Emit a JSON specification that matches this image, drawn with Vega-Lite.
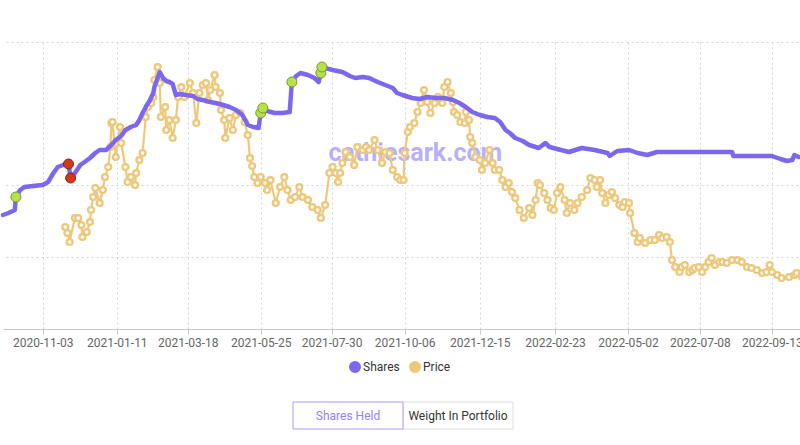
{
  "$schema": "https://vega.github.io/schema/vega-lite/v6.json",
  "padding": {"left": 0, "right": 0, "top": 42, "bottom": 0},
  "background": "white",
  "config": {"view": {"stroke": null}, "font": "Roboto"},
  "datasets": {
    "price": [
      {"date":"2020-11-24","price":51},{"date":"2020-11-26","price":48},{"date":"2020-11-28","price":43.5},{"date":"2020-12-03","price":55.5},{"date":"2020-12-06","price":55.5},{"date":"2020-12-09","price":52},{"date":"2020-12-10","price":46},{"date":"2020-12-14","price":48.5},{"date":"2020-12-17","price":53.5},{"date":"2020-12-18","price":59.5},{"date":"2020-12-20","price":66},{"date":"2020-12-22","price":70.5},{"date":"2020-12-26","price":63},{"date":"2020-12-29","price":69.5},{"date":"2020-12-31","price":76},
      {"date":"2021-01-03","price":81},{"date":"2021-01-05","price":91},{"date":"2021-01-06","price":103},{"date":"2021-01-07","price":103.5},{"date":"2021-01-10","price":86},{"date":"2021-01-14","price":101},{"date":"2021-01-15","price":93},{"date":"2021-01-19","price":81},{"date":"2021-01-21","price":73.5},{"date":"2021-01-24","price":76},{"date":"2021-01-28","price":72},{"date":"2021-01-29","price":78},
      {"date":"2021-02-01","price":84.5},{"date":"2021-02-04","price":88},{"date":"2021-02-07","price":106},{"date":"2021-02-09","price":111},{"date":"2021-02-12","price":113},{"date":"2021-02-14","price":116},{"date":"2021-02-15","price":124.5},{"date":"2021-02-18","price":131},{"date":"2021-02-20","price":123},{"date":"2021-02-21","price":106},{"date":"2021-02-25","price":111},{"date":"2021-02-26","price":99.5},
      {"date":"2021-03-01","price":104.5},{"date":"2021-03-04","price":95.5},{"date":"2021-03-07","price":104.5},{"date":"2021-03-09","price":116},{"date":"2021-03-12","price":121},{"date":"2021-03-15","price":116},{"date":"2021-03-20","price":123},{"date":"2021-03-23","price":118},{"date":"2021-03-26","price":103},{"date":"2021-03-29","price":118},
      {"date":"2021-04-01","price":122},{"date":"2021-04-04","price":123},{"date":"2021-04-06","price":114.5},{"date":"2021-04-08","price":119.5},{"date":"2021-04-12","price":127},{"date":"2021-04-13","price":121},{"date":"2021-04-17","price":118},{"date":"2021-04-18","price":109.5},{"date":"2021-04-21","price":104.5},{"date":"2021-04-22","price":95.5},{"date":"2021-04-26","price":105.5},{"date":"2021-04-29","price":99.5},
      {"date":"2021-05-02","price":107},{"date":"2021-05-06","price":108},{"date":"2021-05-10","price":103.5},{"date":"2021-05-13","price":97},{"date":"2021-05-15","price":85.5},{"date":"2021-05-17","price":81.5},{"date":"2021-05-19","price":76},{"date":"2021-05-22","price":73},{"date":"2021-05-25","price":76},{"date":"2021-05-29","price":73},{"date":"2021-05-31","price":69.5},
      {"date":"2021-06-03","price":74.5},{"date":"2021-06-08","price":63},{"date":"2021-06-12","price":71},{"date":"2021-06-16","price":76},{"date":"2021-06-19","price":69.5},{"date":"2021-06-22","price":64.5},{"date":"2021-06-26","price":66},{"date":"2021-06-30","price":71},
      {"date":"2021-07-03","price":66},{"date":"2021-07-08","price":64.5},{"date":"2021-07-12","price":61},{"date":"2021-07-17","price":59.5},{"date":"2021-07-20","price":55.5},{"date":"2021-07-24","price":62},{"date":"2021-07-28","price":78},{"date":"2021-07-31","price":81},
      {"date":"2021-08-03","price":78},{"date":"2021-08-05","price":73.5},{"date":"2021-08-07","price":78},{"date":"2021-08-09","price":83},{"date":"2021-08-12","price":88.5},{"date":"2021-08-16","price":86},{"date":"2021-08-20","price":82},{"date":"2021-08-23","price":91},{"date":"2021-08-28","price":89.5},{"date":"2021-08-31","price":91},
      {"date":"2021-09-03","price":89.5},{"date":"2021-09-08","price":94.5},{"date":"2021-09-11","price":89.5},{"date":"2021-09-15","price":83},{"date":"2021-09-18","price":88.5},{"date":"2021-09-22","price":88},{"date":"2021-09-25","price":79.5},{"date":"2021-09-29","price":76},
      {"date":"2021-10-02","price":74.5},{"date":"2021-10-05","price":74.5},{"date":"2021-10-06","price":88},{"date":"2021-10-09","price":98.5},{"date":"2021-10-11","price":101},{"date":"2021-10-15","price":103},{"date":"2021-10-18","price":108.5},{"date":"2021-10-21","price":113},{"date":"2021-10-24","price":119.5},{"date":"2021-10-27","price":113.5},{"date":"2021-10-30","price":108},
      {"date":"2021-11-03","price":113},{"date":"2021-11-06","price":116},{"date":"2021-11-10","price":113},{"date":"2021-11-12","price":121},{"date":"2021-11-15","price":123.5},{"date":"2021-11-18","price":118},{"date":"2021-11-20","price":113.5},{"date":"2021-11-21","price":108.5},{"date":"2021-11-24","price":107},{"date":"2021-11-27","price":103.5},
      {"date":"2021-12-01","price":103},{"date":"2021-12-02","price":108.5},{"date":"2021-12-05","price":104.5},{"date":"2021-12-06","price":96},{"date":"2021-12-08","price":93},{"date":"2021-12-11","price":86},{"date":"2021-12-15","price":84.5},{"date":"2021-12-17","price":79.5},{"date":"2021-12-20","price":83},{"date":"2021-12-24","price":89.5},{"date":"2021-12-27","price":83},{"date":"2021-12-29","price":79.5},
      {"date":"2022-01-02","price":79.5},{"date":"2022-01-05","price":74.5},{"date":"2022-01-08","price":71},{"date":"2022-01-11","price":73},{"date":"2022-01-14","price":68.5},{"date":"2022-01-17","price":65.5},{"date":"2022-01-21","price":59.5},{"date":"2022-01-25","price":55.5},{"date":"2022-01-30","price":60.5},
      {"date":"2022-02-02","price":57},{"date":"2022-02-05","price":64.5},{"date":"2022-02-07","price":73},{"date":"2022-02-09","price":72},{"date":"2022-02-13","price":68},{"date":"2022-02-16","price":64.5},{"date":"2022-02-19","price":60.5},{"date":"2022-02-22","price":59.5},{"date":"2022-02-25","price":68},{"date":"2022-02-28","price":71},
      {"date":"2022-03-04","price":64.5},{"date":"2022-03-06","price":58},{"date":"2022-03-09","price":63},{"date":"2022-03-13","price":59.5},{"date":"2022-03-16","price":63},{"date":"2022-03-20","price":66},{"date":"2022-03-25","price":69.5},{"date":"2022-03-28","price":75.5},
      {"date":"2022-04-01","price":74.5},{"date":"2022-04-03","price":71},{"date":"2022-04-06","price":74.5},{"date":"2022-04-08","price":68},{"date":"2022-04-11","price":63},{"date":"2022-04-14","price":67},{"date":"2022-04-17","price":68.5},{"date":"2022-04-20","price":65.5},{"date":"2022-04-24","price":62},{"date":"2022-04-27","price":61},{"date":"2022-04-29","price":63.5},
      {"date":"2022-05-03","price":63},{"date":"2022-05-04","price":58},{"date":"2022-05-08","price":48},{"date":"2022-05-11","price":43.5},{"date":"2022-05-13","price":45.5},{"date":"2022-05-18","price":43},{"date":"2022-05-23","price":44.5},{"date":"2022-05-27","price":44.5},{"date":"2022-05-31","price":47},
      {"date":"2022-06-03","price":45.5},{"date":"2022-06-07","price":46},{"date":"2022-06-10","price":43.5},{"date":"2022-06-12","price":34.5},{"date":"2022-06-15","price":31},{"date":"2022-06-19","price":28.5},{"date":"2022-06-21","price":31},{"date":"2022-06-24","price":32},{"date":"2022-06-28","price":28.5},
      {"date":"2022-07-01","price":29.5},{"date":"2022-07-03","price":30.5},{"date":"2022-07-07","price":31},{"date":"2022-07-10","price":28.5},{"date":"2022-07-13","price":31},{"date":"2022-07-16","price":33.5},{"date":"2022-07-19","price":35.5},{"date":"2022-07-22","price":32},{"date":"2022-07-26","price":33.5},{"date":"2022-07-29","price":33.5},
      {"date":"2022-08-02","price":33},{"date":"2022-08-07","price":34.5},{"date":"2022-08-12","price":34.5},{"date":"2022-08-16","price":33.5},{"date":"2022-08-21","price":31},{"date":"2022-08-25","price":30.5},{"date":"2022-08-30","price":29.5},
      {"date":"2022-09-04","price":28},{"date":"2022-09-08","price":28.5},{"date":"2022-09-11","price":32},{"date":"2022-09-13","price":28.5},{"date":"2022-09-18","price":27},{"date":"2022-09-22","price":25.5},{"date":"2022-09-29","price":26},
      {"date":"2022-10-04","price":27},{"date":"2022-10-06","price":28},{"date":"2022-10-11","price":26}
    ],
    "shares": [
      {"date":"2020-09-27","shares":114000},{"date":"2020-10-02","shares":116000},{"date":"2020-10-06","shares":118000},{"date":"2020-10-08","shares":119000},{"date":"2020-10-09","shares":132000},{"date":"2020-10-13","shares":139000},{"date":"2020-10-17","shares":142000},{"date":"2020-10-25","shares":143000},
      {"date":"2020-11-03","shares":144000},{"date":"2020-11-08","shares":147000},{"date":"2020-11-13","shares":156000},{"date":"2020-11-17","shares":162000},{"date":"2020-11-22","shares":164000},{"date":"2020-11-27","shares":165000},{"date":"2020-11-29","shares":151000},
      {"date":"2020-12-03","shares":156000},{"date":"2020-12-08","shares":164000},{"date":"2020-12-12","shares":167000},{"date":"2020-12-17","shares":171000},{"date":"2020-12-22","shares":176000},{"date":"2020-12-26","shares":179000},
      {"date":"2021-01-01","shares":179000},{"date":"2021-01-05","shares":183000},{"date":"2021-01-10","shares":189000},{"date":"2021-01-15","shares":193000},{"date":"2021-01-19","shares":199000},{"date":"2021-01-24","shares":202000},{"date":"2021-01-29","shares":204000},
      {"date":"2021-02-01","shares":209000},{"date":"2021-02-04","shares":216000},{"date":"2021-02-08","shares":224000},{"date":"2021-02-11","shares":229000},{"date":"2021-02-14","shares":236000},{"date":"2021-02-15","shares":242000},{"date":"2021-02-18","shares":251000},{"date":"2021-02-20","shares":257000},{"date":"2021-02-23","shares":251000},{"date":"2021-02-26","shares":248000},
      {"date":"2021-03-01","shares":247000},{"date":"2021-03-04","shares":245000},{"date":"2021-03-07","shares":234000},{"date":"2021-03-11","shares":235000},{"date":"2021-03-16","shares":234000},{"date":"2021-03-23","shares":233000},{"date":"2021-03-27","shares":230000},
      {"date":"2021-04-01","shares":229000},{"date":"2021-04-08","shares":227000},{"date":"2021-04-13","shares":226000},{"date":"2021-04-20","shares":224000},{"date":"2021-04-26","shares":222000},
      {"date":"2021-05-02","shares":219000},{"date":"2021-05-08","shares":214000},{"date":"2021-05-13","shares":204000},{"date":"2021-05-18","shares":202000},{"date":"2021-05-23","shares":201000},{"date":"2021-05-25","shares":216000},{"date":"2021-05-27","shares":221000},{"date":"2021-05-31","shares":218000},
      {"date":"2021-06-07","shares":216000},{"date":"2021-06-14","shares":216000},{"date":"2021-06-21","shares":217000},{"date":"2021-06-23","shares":247000},{"date":"2021-06-27","shares":253000},
      {"date":"2021-07-01","shares":256000},{"date":"2021-07-08","shares":254000},{"date":"2021-07-14","shares":251000},{"date":"2021-07-18","shares":247000},{"date":"2021-07-20","shares":256000},{"date":"2021-07-21","shares":262000},{"date":"2021-07-24","shares":261000},{"date":"2021-07-31","shares":259000},
      {"date":"2021-08-09","shares":257000},{"date":"2021-08-16","shares":253000},{"date":"2021-08-21","shares":251000},{"date":"2021-08-28","shares":252000},
      {"date":"2021-09-03","shares":251000},{"date":"2021-09-11","shares":247000},{"date":"2021-09-18","shares":244000},{"date":"2021-09-25","shares":241000},{"date":"2021-09-29","shares":236000},
      {"date":"2021-10-04","shares":234000},{"date":"2021-10-13","shares":231000},{"date":"2021-10-20","shares":230000},{"date":"2021-10-27","shares":232000},
      {"date":"2021-11-04","shares":231000},{"date":"2021-11-12","shares":231000},{"date":"2021-11-20","shares":229000},{"date":"2021-11-26","shares":226000},
      {"date":"2021-12-02","shares":222000},{"date":"2021-12-08","shares":217000},{"date":"2021-12-15","shares":214000},{"date":"2021-12-22","shares":212000},{"date":"2021-12-29","shares":211000},
      {"date":"2022-01-03","shares":207000},{"date":"2022-01-08","shares":199000},{"date":"2022-01-12","shares":196000},{"date":"2022-01-17","shares":191000},{"date":"2022-01-24","shares":188000},{"date":"2022-01-30","shares":184000},
      {"date":"2022-02-08","shares":181000},{"date":"2022-02-14","shares":186000},{"date":"2022-02-18","shares":182000},{"date":"2022-02-25","shares":180000},
      {"date":"2022-03-08","shares":177000},{"date":"2022-03-20","shares":181000},{"date":"2022-04-01","shares":179000},{"date":"2022-04-13","shares":176000},{"date":"2022-04-15","shares":173000},{"date":"2022-04-22","shares":178000},
      {"date":"2022-05-03","shares":179000},{"date":"2022-05-11","shares":176000},{"date":"2022-05-20","shares":174000},{"date":"2022-05-29","shares":177000},{"date":"2022-06-06","shares":177000},{"date":"2022-07-10","shares":177000},
      {"date":"2022-08-07","shares":177000},{"date":"2022-08-08","shares":173000},{"date":"2022-09-13","shares":173000},{"date":"2022-09-21","shares":170000},{"date":"2022-09-27","shares":168000},
      {"date":"2022-10-02","shares":169000},{"date":"2022-10-04","shares":174000},{"date":"2022-10-08","shares":172000},{"date":"2022-10-11","shares":172000}
    ],
    "trades": [
      {"date":"2020-10-09","shares":132000,"action":"buy"},
      {"date":"2020-11-27","shares":165000,"action":"sell"},
      {"date":"2020-11-29","shares":151000,"action":"sell"},
      {"date":"2021-05-25","shares":216000,"action":"buy"},
      {"date":"2021-05-27","shares":221000,"action":"buy"},
      {"date":"2021-06-23","shares":247000,"action":"buy"},
      {"date":"2021-07-20","shares":256000,"action":"buy"},
      {"date":"2021-07-21","shares":262000,"action":"buy"}
    ],
    "buttons": [
      {"label":"Weight In Portfolio","state":"off"},
      {"label":"Shares Held","state":"on"}
    ]
  },
  "vconcat": [
    {
      "width": 800,
      "height": 287,
      "encoding": {
        "x": {
          "field": "date",
          "type": "temporal",
          "scale": {"type": "utc", "domain": [{"year":2020,"month":9,"date":27,"utc":true},{"year":2022,"month":10,"date":12,"utc":true}]},
          "axis": {
            "title": null,
            "format": "%Y-%m-%d",
            "values": [
              {"year":2020,"month":11,"date":3,"utc":true},
              {"year":2021,"month":1,"date":11,"utc":true},
              {"year":2021,"month":3,"date":18,"utc":true},
              {"year":2021,"month":5,"date":25,"utc":true},
              {"year":2021,"month":7,"date":30,"utc":true},
              {"year":2021,"month":10,"date":6,"utc":true},
              {"year":2021,"month":12,"date":15,"utc":true},
              {"year":2022,"month":2,"date":23,"utc":true},
              {"year":2022,"month":5,"date":2,"utc":true},
              {"year":2022,"month":7,"date":8,"utc":true},
              {"year":2022,"month":9,"date":13,"utc":true}
            ],
            "grid": true,
            "gridColor": "#d6d6d6",
            "gridDash": [2, 3],
            "gridWidth": 1,
            "domainColor": "#c8c8c8",
            "tickColor": "#c8c8c8",
            "tickSize": 5,
            "labelColor": "#666666",
            "labelFontSize": 12,
            "labelPadding": 3,
            "labelOverlap": false,
            "labelFlush": false
          }
        }
      },
      "layer": [
        {
          "data": {"values": [{"date":"2021-10-16","label":"cathiesark.com"}]},
          "mark": {"type": "text", "fontSize": 25, "fontWeight": "bold", "font": "Roboto", "color": "#b9affc", "baseline": "middle", "align": "center"},
          "encoding": {
            "y": {"datum": 88, "type": "quantitative", "scale": {"domain": [0, 143.5]}, "axis": null},
            "text": {"field": "label"}
          }
        },
        {
          "data": {"name": "price"},
          "mark": {"type": "line", "strokeWidth": 2.2, "point": {"filled": false, "fill": "white", "size": 34, "strokeWidth": 2.4}},
          "encoding": {
            "y": {"field": "price", "type": "quantitative", "scale": {"domain": [0, 143.5]},
              "axis": {"orient": "right", "title": null, "grid": true, "values": [36, 72, 143.5], "labels": false, "ticks": false, "domain": false, "minExtent": 0, "maxExtent": 0, "gridColor": "#d6d6d6", "gridDash": [2, 3], "gridWidth": 1}},
            "color": {"datum": "Price"}
          }
        },
        {
          "data": {"name": "shares"},
          "mark": {"type": "line", "strokeWidth": 4.5, "strokeJoin": "round", "strokeCap": "round"},
          "encoding": {
            "y": {"field": "shares", "type": "quantitative", "scale": {"domain": [0, 287000]}, "axis": null},
            "color": {
              "datum": "Shares",
              "scale": {"domain": ["Shares", "Price"], "range": ["#7b68ee", "#eec87a"]},
              "legend": {"orient": "none", "legendX": 346, "legendY": 319, "direction": "horizontal", "title": null, "symbolType": "circle", "symbolSize": 36, "symbolStrokeWidth": 6, "labelFontSize": 12, "labelColor": "#333333", "columnPadding": 0, "labelOffset": 2}
            }
          }
        },
        {
          "data": {"name": "trades"},
          "mark": {"type": "point", "filled": true, "size": 100, "strokeWidth": 1, "opacity": 1},
          "encoding": {
            "y": {"field": "shares", "type": "quantitative", "scale": {"domain": [0, 287000]}, "axis": null},
            "fill": {"field": "action", "type": "nominal", "scale": {"domain": ["buy", "sell"], "range": ["#b5e14b", "#cf3a1c"]}, "legend": null},
            "stroke": {"field": "action", "type": "nominal", "scale": {"domain": ["buy", "sell"], "range": ["#7d9a2a", "#8a2412"]}, "legend": null}
          }
        }
      ],
      "resolve": {"scale": {"y": "independent"}, "axis": {"y": "independent"}}
    },
    {
      "width": 220,
      "height": 27,
      "data": {"name": "buttons"},
      "encoding": {
        "x": {"field": "label", "type": "nominal", "scale": {"domain": ["Shares Held", "Weight In Portfolio"], "paddingInner": 0, "paddingOuter": 0}, "axis": null}
      },
      "layer": [
        {
          "mark": {"type": "rect", "fill": "white", "strokeWidth": 1},
          "encoding": {
            "stroke": {"field": "state", "type": "nominal", "scale": {"domain": ["on", "off"], "range": ["#a99cf7", "#dddddd"]}, "legend": null}
          }
        },
        {
          "mark": {"type": "text", "fontSize": 12, "font": "Roboto", "baseline": "middle"},
          "encoding": {
            "text": {"field": "label"},
            "color": {"field": "state", "type": "nominal", "scale": {"domain": ["on", "off"], "range": ["#9483f0", "#333333"]}, "legend": null}
          }
        }
      ]
    }
  ],
  "bounds": "flush",
  "spacing": 73,
  "center": true,
  "resolve": {"scale": {"color": "independent", "fill": "independent", "stroke": "independent"}, "legend": {"color": "independent", "fill": "independent", "stroke": "independent"}}
}
